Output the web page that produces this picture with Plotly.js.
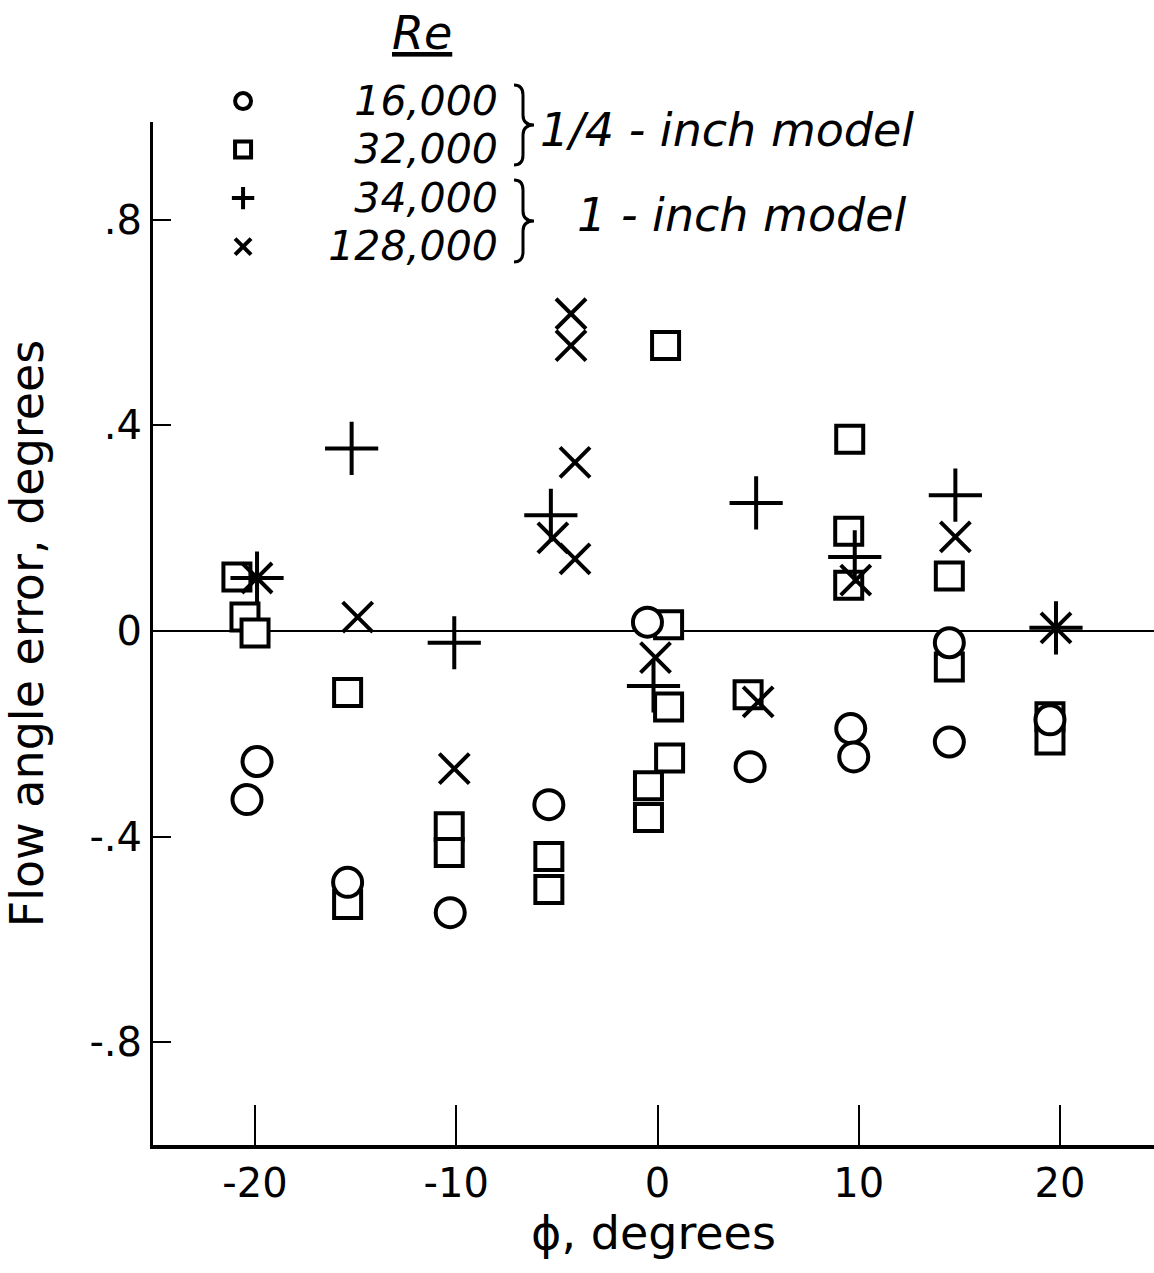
<!DOCTYPE html>
<html>
<head>
<meta charset="utf-8">
<script src="https://cdn.plot.ly/plotly-3.0.1.min.js"></script>
<style>html,body{margin:0;padding:0;background:#fff;}#chart{width:1154px;height:1273px;}</style>
</head>
<body>
<div id="chart"></div>
<script>
// Re = 16,000 (1/4-inch model) - circles
const re16_phi = [-20.4, -19.9, -15.4, -10.3, -5.4, -0.5, 4.6, 9.6, 9.75, 14.5, 14.5, 19.5];
const re16_err = [-0.328, -0.254, -0.489, -0.548, -0.338, 0.017, -0.264, -0.190, -0.245, -0.023, -0.216, -0.173];

// Re = 32,000 (1/4-inch model) - squares
const re32_phi = [-20.9, -20.5, -20.0, -15.4, -15.4, -10.35, -10.35, -5.4, -5.4, -0.45, -0.45, 0.55, 0.55, 0.6, 0.4, 4.5, 9.55, 9.5, 9.5, 14.5, 14.5, 19.5, 19.5];
const re32_err = [0.105, 0.027, -0.004, -0.120, -0.532, -0.381, -0.431, -0.439, -0.503, -0.301, -0.363, 0.012, -0.148, -0.247, 0.555, -0.124, 0.373, 0.194, 0.089, 0.107, -0.070, -0.167, -0.212];

// Re = 34,000 (1-inch model) - plus
const re34_phi = [-19.9, -15.2, -10.1, -5.3, -0.2, 4.9, 9.8, 14.8, 19.8];
const re34_err = [0.103, 0.355, -0.023, 0.225, -0.107, 0.249, 0.144, 0.264, 0.006];

// Re = 128,000 (1-inch model) - x
const re128_phi = [-19.9, -14.9, -10.1, -4.3, -4.3, -4.1, -5.2, -4.1, -0.1, 5.0, 9.85, 14.8, 19.8];
const re128_err = [0.103, 0.027, -0.268, 0.617, 0.555, 0.328, 0.181, 0.140, -0.052, -0.138, 0.099, 0.183, 0.006];

const seriesNames = ['16,000', '32,000', '34,000', '128,000'];

const xTickVals = [-20, -10, 0, 10, 20];
const xTickText = ['-20', '-10', '0', '10', '20'];
const yTickVals = [0.8, 0.4, 0, -0.4, -0.8];
const yTickText = ['.8', '.4', '0', '-.4', '-.8'];

const FONT = 'DejaVu Sans, Liberation Sans, sans-serif';
function legName(s) {
  // right-align the Reynolds numbers with figure spaces (digit width)
  return '<span style="font-size:41px">' + '\u00a0' + '\u2007'.repeat(9 - s.length) + s + '</span>';
}

// page-pixel -> paper coordinates for the decorative braces
const W = 1154, H = 1273, ML = 153, MR = 0, MT = 122, MB = 128;
function px(x) { return (x - ML) / (W - ML - MR); }
function py(y) { return (H - MB - y) / (H - MT - MB); }
function bracePath(x0, y0, y1) {
  const x1 = x0 + 9, x2 = x0 + 20, ym = (y0 + y1) / 2;
  const P = (x, y) => px(x).toFixed(5) + ',' + py(y).toFixed(5);
  return 'M' + P(x0, y0) + ' Q' + P(x1, y0) + ' ' + P(x1, y0 + 10) +
         ' L' + P(x1, ym - 10) + ' Q' + P(x1, ym) + ' ' + P(x2, ym) +
         ' Q' + P(x1, ym) + ' ' + P(x1, ym + 10) +
         ' L' + P(x1, y1 - 10) + ' Q' + P(x1, y1) + ' ' + P(x0, y1);
}

const traces = [
  {x: re32_phi, y: re32_err, type: 'scatter', mode: 'markers', name: legName(seriesNames[1]), legendrank: 2,
   marker: {symbol: 'square', size: 27, color: '#ffffff', line: {color: '#000', width: 4}}},
  {x: re16_phi, y: re16_err, type: 'scatter', mode: 'markers', name: legName(seriesNames[0]), legendrank: 1,
   marker: {symbol: 'circle', size: 29, color: '#ffffff', line: {color: '#000', width: 4}}},
  {x: re34_phi, y: re34_err, type: 'scatter', mode: 'markers', name: legName(seriesNames[2]), legendrank: 3,
   marker: {symbol: 'cross-thin', size: 38, color: '#000', line: {color: '#000', width: 4}}},
  {x: re128_phi, y: re128_err, type: 'scatter', mode: 'markers', name: legName(seriesNames[3]), legendrank: 4,
   marker: {symbol: 'x-thin', size: 30, color: '#000', line: {color: '#000', width: 4}}}
];

const layout = {
  width: W, height: H,
  margin: {l: ML, r: MR, t: MT, b: MB},
  paper_bgcolor: '#fff', plot_bgcolor: '#fff',
  font: {family: FONT, color: '#000', size: 40},
  showlegend: true,
  legend: {x: 0.07, y: 1.049, xanchor: 'left', yanchor: 'top', bgcolor: 'rgba(0,0,0,0)',
           font: {family: FONT, size: 35, style: 'italic', color: '#000'}, tracegroupgap: 0,
           itemsizing: 'trace'},
  xaxis: {range: [-25.07, 24.67], tickvals: xTickVals, ticktext: xTickText,
          ticks: 'inside', ticklen: 40, tickwidth: 2, tickcolor: '#000',
          showline: true, linewidth: 4, linecolor: '#000', mirror: false,
          showgrid: false, zeroline: false, automargin: false,
          tickfont: {family: FONT, size: 40},
          title: {text: '\u03d5, degrees', font: {family: FONT, size: 46}, standoff: 8}},
  yaxis: {range: [-1.0, 0.99], tickvals: yTickVals, ticktext: yTickText,
          ticks: 'inside', ticklen: 18, tickwidth: 2, tickcolor: '#000',
          showline: true, linewidth: 3, linecolor: '#000',
          showgrid: false, zeroline: true, zerolinecolor: '#000', zerolinewidth: 2, automargin: false,
          tickfont: {family: FONT, size: 40},
          title: {text: 'Flow angle error, degrees', font: {family: FONT, size: 46}, standoff: 32}},
  shapes: [
    {type: 'path', xref: 'paper', yref: 'paper', path: bracePath(514, 85, 165), line: {color: '#000', width: 3}},
    {type: 'path', xref: 'paper', yref: 'paper', path: bracePath(514, 180, 262), line: {color: '#000', width: 3}}
  ],
  annotations: [
    {xref: 'paper', yref: 'paper', x: 0.269, y: 1.087, text: '<i><u>Re</u></i>', showarrow: false,
     font: {family: FONT, size: 46}, xanchor: 'center', yanchor: 'middle'},
    {xref: 'paper', yref: 'paper', x: 0.385, y: 0.992, text: '<i>1/4 - inch model</i>', showarrow: false,
     font: {family: FONT, size: 46}, xanchor: 'left', yanchor: 'middle'},
    {xref: 'paper', yref: 'paper', x: 0.4216, y: 0.909, text: '<i>1 - inch model</i>', showarrow: false,
     font: {family: FONT, size: 46}, xanchor: 'left', yanchor: 'middle'}
  ]
};

Plotly.newPlot('chart', traces, layout, {displayModeBar: false, staticPlot: true});
</script>
</body>
</html>
